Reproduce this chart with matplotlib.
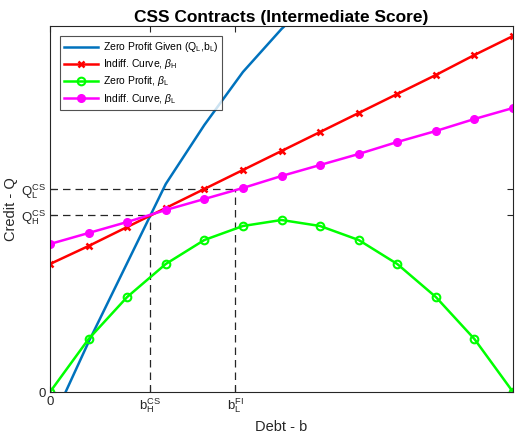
import matplotlib
matplotlib.use("Agg")
import matplotlib.pyplot as plt

plt.rcParams['font.family'] = ['Liberation Sans', 'DejaVu Sans']
plt.rcParams['mathtext.fontset'] = 'custom'
plt.rcParams['mathtext.rm'] = 'Liberation Sans'
plt.rcParams['mathtext.it'] = 'Liberation Sans:italic'

debt = list(range(13))
zero_profit_given = [-3.4, 5.0, 12.9, 20.8, 26.7, 32.0, 36.3, 40.0, 43.5, 46.8, 49.8, 52.6, 55.2]
indiff_H = [12.8, 14.6, 16.5, 18.4, 20.3, 22.2, 24.1, 26.0, 27.9, 29.8, 31.7, 33.7, 35.6]
zero_profit_L = [0, 5.3, 9.5, 12.8, 15.2, 16.6, 17.2, 16.6, 15.2, 12.8, 9.5, 5.3, 0]
indiff_L = [14.8, 15.9, 17.0, 18.2, 19.3, 20.4, 21.6, 22.7, 23.8, 25.0, 26.1, 27.3, 28.4]

b_H_cs = 2.59
b_L_fi = 4.8
Q_H_cs = 17.7
Q_L_cs = 20.3

xticks = [0, b_H_cs, b_L_fi]
xticklabels = ['0', r'$\mathrm{b}_\mathrm{H}^\mathrm{CS}$', r'$\mathrm{b}_\mathrm{L}^\mathrm{FI}$']
yticks = [0, Q_H_cs, Q_L_cs]
yticklabels = ['0', r'$\mathrm{Q}_\mathrm{H}^\mathrm{CS}$', r'$\mathrm{Q}_\mathrm{L}^\mathrm{CS}$']

fig = plt.figure(figsize=(5.18, 4.36), dpi=100)
ax = fig.add_axes([50/518, 1-392/436, (513-50)/518, (392-26)/436])
ax.grid(False)

dash = (0, (6, 4))
dc = '#262626'
ax.plot([0, b_H_cs], [Q_H_cs, Q_H_cs], color=dc, lw=0.9, ls=dash, zorder=1)
ax.plot([b_H_cs, b_H_cs], [0, Q_H_cs], color=dc, lw=0.9, ls=dash, zorder=1)
ax.plot([0, b_L_fi], [Q_L_cs, Q_L_cs], color=dc, lw=0.9, ls=dash, zorder=1)
ax.plot([b_L_fi, b_L_fi], [0, Q_L_cs], color=dc, lw=0.9, ls=dash, zorder=1)

ax.plot(debt, zero_profit_given, color='#0072BD', lw=1.8, label=r'Zero Profit Given (Q$_\mathrm{L}$,b$_\mathrm{L}$)')
ax.plot(debt, indiff_H, color='#FF0000', lw=1.8, marker='x', ms=5, mew=1.8, label=r'Indiff. Curve, $\beta_\mathrm{H}$')
ax.plot(debt, zero_profit_L, color='#00FF00', lw=1.8, marker='o', ms=5.5, mew=1.5, mfc='none', label=r'Zero Profit, $\beta_\mathrm{L}$')
ax.plot(debt, indiff_L, color='#FF00FF', lw=1.8, marker='o', ms=5.5, label=r'Indiff. Curve, $\beta_\mathrm{L}$')

ax.set_xlim(0, 12)
ax.set_ylim(0, 36.6)
ax.set_xticks(xticks)
ax.set_xticklabels(xticklabels, fontsize=9.5)
ax.set_yticks(yticks)
ax.set_yticklabels(yticklabels, fontsize=9.5)
ax.tick_params(direction='in', top=True, right=True, length=4, width=0.8, colors=dc, labelcolor=dc, pad=3)
for s in ax.spines.values():
    s.set_color(dc)
    s.set_linewidth(0.8)

ax.set_xlabel('Debt - b', fontsize=10.5, color=dc, labelpad=4)
ax.set_ylabel('Credit - Q', fontsize=10.5, color=dc, labelpad=2)
ax.set_title('CSS Contracts (Intermediate Score)', fontsize=12.5, fontweight='bold', pad=3)

leg = ax.legend(loc='upper left', bbox_to_anchor=(10/463, 1-10/366), fontsize=7.5, frameon=True,
                fancybox=False, edgecolor=dc, handlelength=3.2, borderpad=0.4,
                labelspacing=0.3, handletextpad=0.5, borderaxespad=0)
leg.get_frame().set_linewidth(0.8)

fig.savefig('out.png', dpi=100)
